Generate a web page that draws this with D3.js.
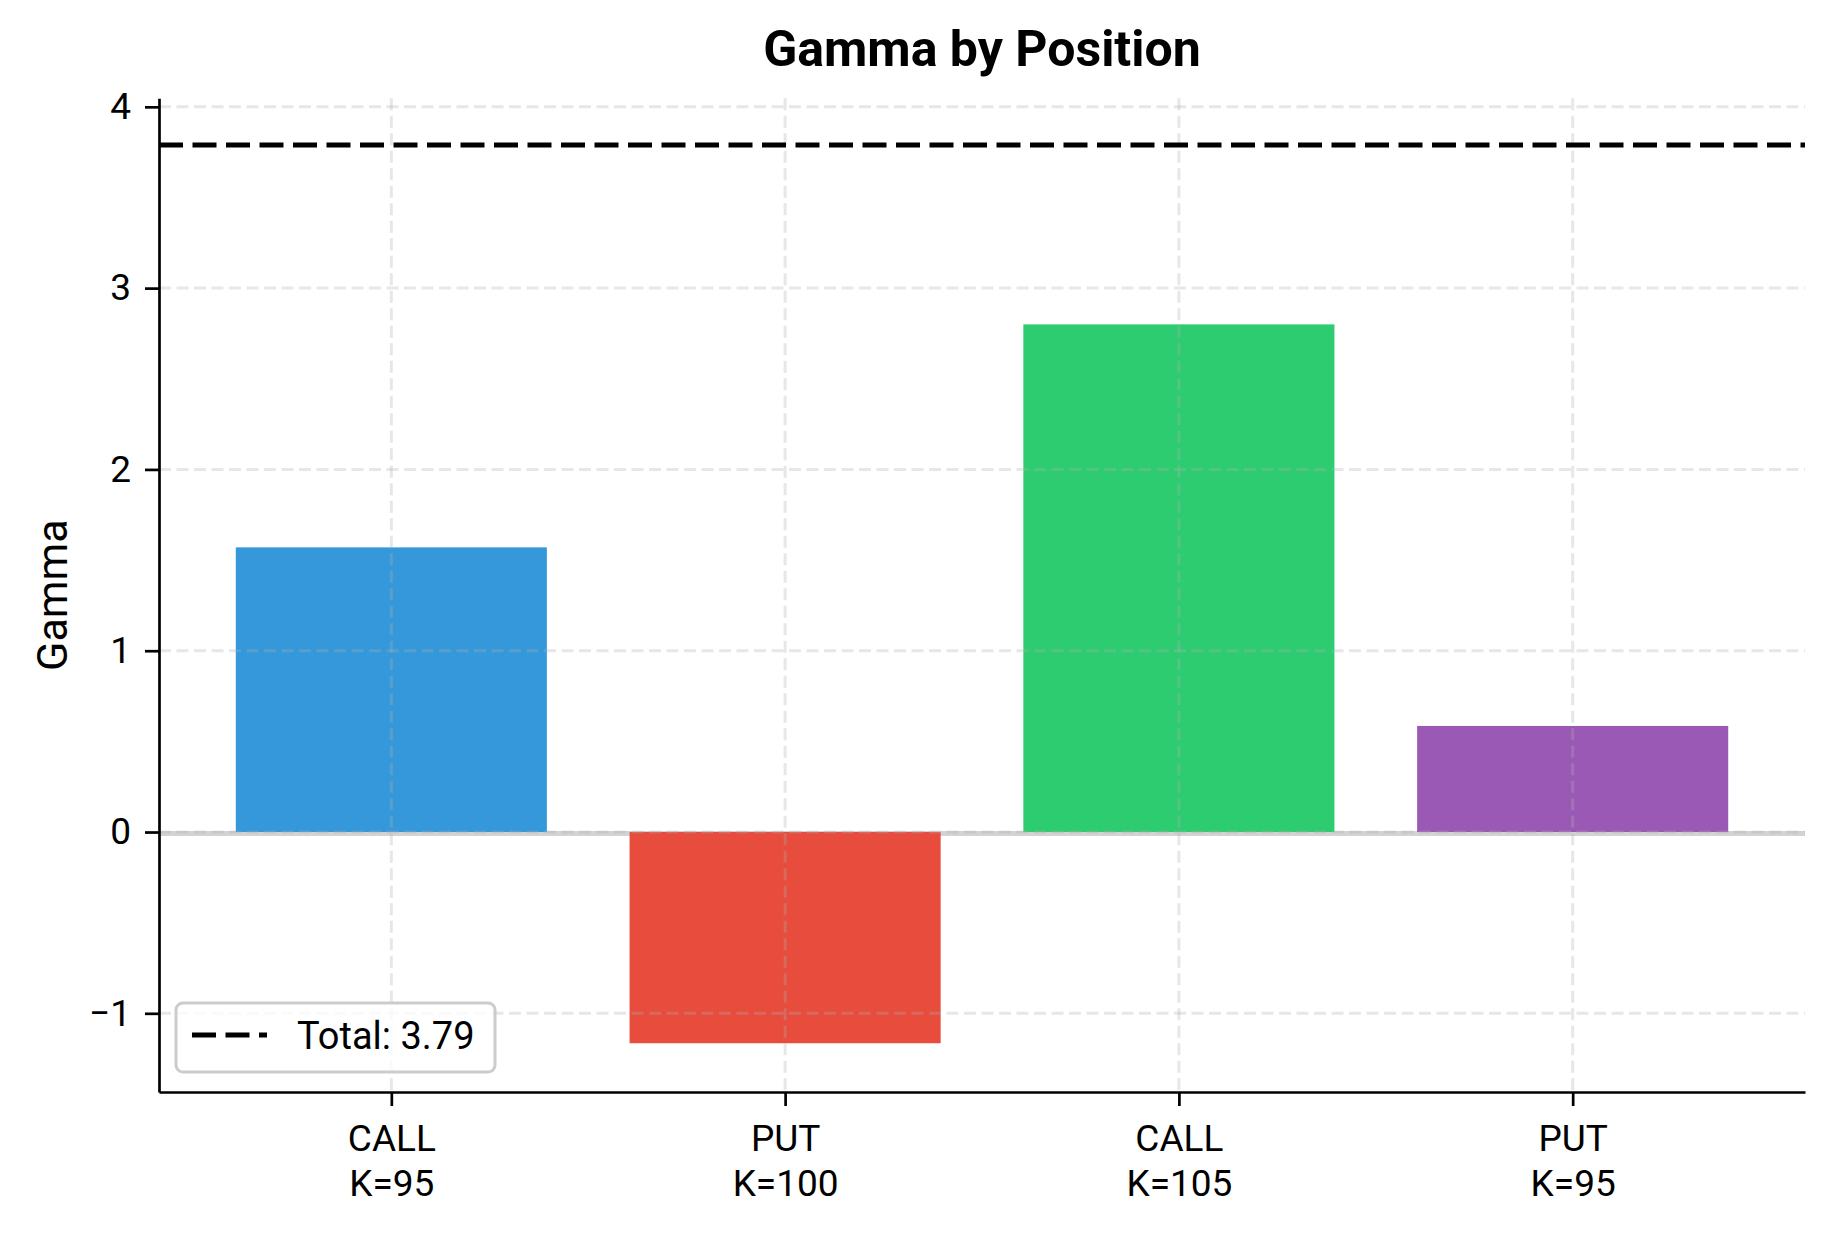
<!DOCTYPE html>
<html>
<head>
<meta charset="utf-8">
<script src="https://cdn.jsdelivr.net/npm/d3@7"></script>
<style>
    body { margin: 0; background: #fff; }
    text { font-family: Roboto, "Noto Sans", sans-serif; fill: #000; }
</style>
</head>
<body>
<div id="gamma-chart"></div>
<script>

var optionTypes = ["CALL", "PUT", "CALL", "PUT"];
var strikes = [95, 100, 105, 95];
var gammas = [1.57, -1.165, 2.80, 0.585];
var barColors = ["#3498db", "#e74c3c", "#2ecc71", "#9b59b6"];
var yTicks = [-1, 0, 1, 2, 3, 4];

var drawGamma = function() {

    var W = 1834, H = 1234;
    var plot = {left: 159, right: 1805, top: 98.3, bottom: 1092};

    var positions = optionTypes.map(function(t, i) {
        return {i: i, type: t, strike: strikes[i], gamma: gammas[i], color: barColors[i]};
    });
    var total = d3.sum(gammas);

    var svg = d3.select("#gamma-chart").append("svg")
        .attr("width", W)
        .attr("height", H);

    // matplotlib style limits: bars of width 0.8 plus 5% margin
    var x = d3.scaleLinear().domain([-0.59, 3.59]).range([plot.left, plot.right]);
    var y = d3.scaleLinear().domain([-1.434, 4.047]).range([plot.bottom, plot.top]);
    var barW = x(0.79) - x(0);

    // zero line
    svg.append("line")
        .attr("x1", plot.left).attr("x2", plot.right)
        .attr("y1", y(0) + 1.5).attr("y2", y(0) + 1.5)
        .style("stroke", "#808080")
        .style("stroke-opacity", 0.35)
        .style("stroke-width", 5);

    svg.selectAll(".bar")
        .data(positions)
        .enter()
        .append("rect")
        .attr("class", "bar")
        .attr("x", function(d) { return x(d.i) - barW / 2; })
        .attr("width", barW)
        .attr("y", function(d) { return y(Math.max(0, d.gamma)); })
        .attr("height", function(d) { return Math.abs(y(d.gamma) - y(0)); })
        .attr("fill", function(d) { return d.color; });

    // grid, drawn over the bars
    var grid = svg.append("g").attr("class", "grid")
        .style("stroke", "#b0b0b0")
        .style("stroke-opacity", 0.3)
        .style("stroke-width", 3)
        .style("stroke-dasharray", "12,5.5");

    grid.selectAll(".hgrid")
        .data(yTicks)
        .enter()
        .append("line")
        .attr("x1", plot.left).attr("x2", plot.right)
        .attr("y1", function(d) { return y(d); })
        .attr("y2", function(d) { return y(d); });

    grid.selectAll(".vgrid")
        .data(positions)
        .enter()
        .append("line")
        .attr("y1", plot.top).attr("y2", plot.bottom)
        .attr("x1", function(d) { return x(d.i); })
        .attr("x2", function(d) { return x(d.i); });

    // total gamma line
    svg.append("line")
        .attr("x1", plot.left).attr("x2", plot.right)
        .attr("y1", y(total)).attr("y2", y(total))
        .style("stroke", "#000")
        .style("stroke-width", 5)
        .style("stroke-dasharray", "24,9.5");

    // Y axis
    var yAxis = svg.append("g")
        .attr("class", "y-axis")
        .attr("transform", "translate(" + plot.left + ",0)")
        .call(d3.axisLeft(y).tickValues(yTicks).tickFormat(d3.format("d"))
            .tickSize(14).tickSizeOuter(0).tickPadding(14));

    // X axis
    var xAxis = svg.append("g")
        .attr("class", "x-axis")
        .attr("transform", "translate(0," + plot.bottom + ")")
        .call(d3.axisBottom(x).tickValues(positions.map(function(d) { return d.i; }))
            .tickSize(14).tickSizeOuter(0).tickFormat(""));

    svg.selectAll(".y-axis path, .y-axis line, .x-axis path, .x-axis line")
        .style("stroke", "#000")
        .style("stroke-width", 2.7);
    yAxis.selectAll("text")
        .style("font-size", "37px")
        .style("font-family", "Roboto, sans-serif");

    var xLabels = xAxis.selectAll(".tick text")
        .data(positions)
        .attr("y", 0)
        .attr("dy", null)
        .style("font-size", "37px")
        .style("font-family", "Roboto, sans-serif");
    xLabels.append("tspan").attr("x", 0).attr("y", 59).text(function(d) { return d.type; });
    xLabels.append("tspan").attr("x", 0).attr("y", 104).text(function(d) { return "K=" + d.strike; });

    // title + y label
    svg.append("text")
        .attr("x", (plot.left + plot.right) / 2)
        .attr("y", 66)
        .attr("text-anchor", "middle")
        .style("font-size", "50px")
        .style("font-weight", "bold")
        .text("Gamma by Position");

    svg.append("text")
        .attr("transform", "translate(67," + ((plot.top + plot.bottom) / 2) + ") rotate(-90)")
        .attr("text-anchor", "middle")
        .style("font-size", "43px")
        .text("Gamma");

    // legend
    var legend = svg.append("g").attr("class", "legend");
    legend.append("rect")
        .attr("x", 176).attr("y", 1003)
        .attr("width", 319).attr("height", 69)
        .attr("rx", 7)
        .style("fill", "#fff")
        .style("fill-opacity", 0.8)
        .style("stroke", "#cccccc")
        .style("stroke-width", 3);
    legend.append("line")
        .attr("x1", 192).attr("x2", 267)
        .attr("y1", 1035).attr("y2", 1035)
        .style("stroke", "#000")
        .style("stroke-width", 5)
        .style("stroke-dasharray", "24,9.5");
    legend.append("text")
        .attr("x", 297).attr("y", 1035)
        .attr("dy", "0.36em")
        .style("font-size", "38px")
        .text("Total: " + total.toFixed(2));

};

drawGamma();
</script>
</body>
</html>
